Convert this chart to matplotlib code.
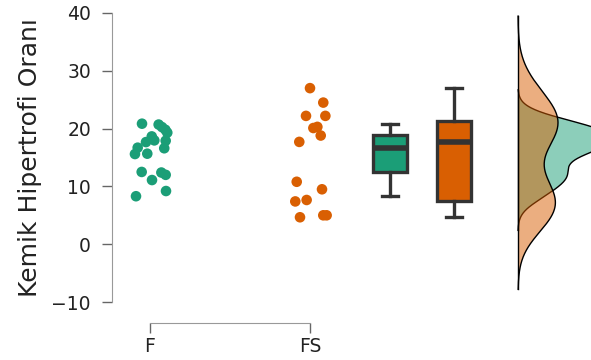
import numpy as np
import matplotlib.pyplot as plt

# values
groups = ["F", "FS"]
colors = ["#1b9e77", "#d95f02"]

f_values = [20.85, 20.7, 20.26, 19.8, 19.3, 18.65, 17.96, 17.67, 17.9, 16.7,
            16.6, 15.6, 15.66, 12.5, 12.4, 12.0, 11.1, 9.2, 8.3]
fs_values = [27.0, 24.5, 22.2, 22.2, 20.1, 20.3, 18.8, 17.7, 10.8, 9.5,
             7.4, 7.65, 4.66, 5.0, 5.0]

# horizontal jitter of each point (category units)
f_jitter = [-0.05, 0.054, 0.075, 0.096, 0.108, 0.011, 0.027, -0.025, 0.098, -0.077,
            0.089, -0.094, -0.017, -0.052, 0.071, 0.098, 0.0125, 0.1, -0.0875]
fs_jitter = [0.0, 0.083, -0.025, 0.096, 0.021, 0.046, 0.067, -0.067, -0.083, 0.075,
             -0.092, -0.021, -0.0625, 0.083, 0.104]

yticks = [-10, 0, 10, 20, 30, 40]


def kde(data, cut=3):
    # gaussian kde with Silverman's rule (like R's bw.nrd0)
    data = np.asarray(data)
    n = len(data)
    q75, q25 = np.percentile(data, [75, 25])
    sd = data.std(ddof=1)
    bw = 0.9 * min(sd, (q75 - q25) / 1.34) * n ** (-0.2)
    grid = np.linspace(data.min() - cut * bw, data.max() + cut * bw, 400)
    dens = np.exp(-0.5 * ((grid[:, None] - data[None, :]) / bw) ** 2).sum(axis=1)
    dens /= n * bw * np.sqrt(2 * np.pi)
    return grid, dens


fig = plt.figure(figsize=(5.91, 3.6), dpi=100)
ax = fig.add_axes([112 / 591, 1 - 302 / 360, 1 - 112 / 591, 289 / 360])

all_values = [f_values, fs_values]
all_jitter = [f_jitter, fs_jitter]

# jittered points
for i, (vals, jit) in enumerate(zip(all_values, all_jitter)):
    ax.scatter(i + np.array(jit), vals, s=58, color=colors[i], edgecolor="none", zorder=3)

# boxplots
bp = ax.boxplot(all_values, positions=[1.5, 1.9], widths=0.21, patch_artist=True,
                showfliers=False, capwidths=0.1, manage_ticks=False,
                boxprops=dict(edgecolor="#333333", linewidth=2.4),
                whiskerprops=dict(color="#333333", linewidth=2.4),
                capprops=dict(color="#333333", linewidth=2.4),
                medianprops=dict(color="#333333", linewidth=4))
for patch, c in zip(bp["boxes"], colors):
    patch.set_facecolor(c)

# densities, all on one baseline (orange drawn over green)
base = 2.3
scale = 5.9
for vals, c in zip(all_values, colors):
    grid, dens = kde(vals)
    ax.fill_betweenx(grid, base, base + dens * scale, facecolor=c, alpha=0.5,
                     edgecolor="none", zorder=2)
    ax.plot(base + dens * scale, grid, color="black", linewidth=1, zorder=2)
    ax.plot([base, base], [grid.min(), grid.max()], color="black", linewidth=1, zorder=2)

ax.set_xlim(-0.2375, (591 - 150) / 160)
ax.set_ylim(-10, 40)
ax.set_yticks(yticks)
ax.set_xticks([0, 1])
ax.set_xticklabels(groups)

ax.spines["top"].set_visible(False)
ax.spines["right"].set_visible(False)
ax.spines["left"].set_color("#999999")
ax.spines["bottom"].set_color("#999999")
ax.spines["bottom"].set_position(("outward", 15))
ax.spines["bottom"].set_bounds(0, 1)
ax.tick_params(axis="both", colors="#666666", labelcolor="#222222", labelsize=13.5,
               length=7.2, width=1)
ax.tick_params(axis="y", pad=8)
ax.tick_params(axis="x", pad=3)
ax.set_ylabel("Kemik Hipertrofi Oranı", fontsize=18, color="#222222", labelpad=7)

plt.savefig("out.png", dpi=100)
